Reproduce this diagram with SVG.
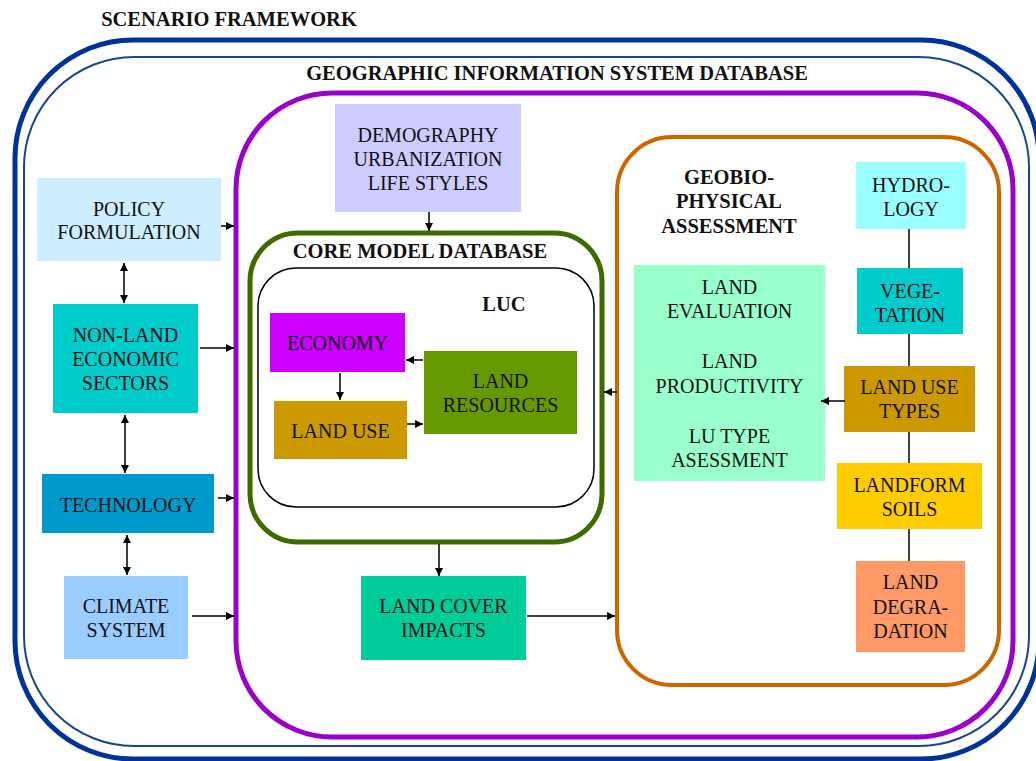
<svg xmlns="http://www.w3.org/2000/svg" width="1036" height="761" viewBox="0 0 1036 761">
<defs>
<marker id="ah" viewBox="0 0 10 10" refX="10" refY="5" markerWidth="8" markerHeight="8" markerUnits="userSpaceOnUse" orient="auto-start-reverse">
<path d="M0,0 L10,5 L0,10 z" fill="#000"/>
</marker>
<style>
.t{font-family:"Liberation Serif","Times New Roman",serif;font-size:20px;fill:#111;text-anchor:middle}
.b{font-family:"Liberation Serif","Times New Roman",serif;font-size:20.5px;font-weight:bold;fill:#111;text-anchor:middle}
.c{stroke:#000;stroke-width:1.5;fill:none}
.a{marker-end:url(#ah)}
.d{marker-start:url(#ah);marker-end:url(#ah)}
</style>
</defs>
<rect width="1036" height="761" fill="#fff"/>

<g id="scenario-framework">
<rect x="15" y="40" width="1024" height="719" rx="118" ry="118" fill="none" stroke="#003399" stroke-width="5"/>
<text class="b" x="229" y="26">SCENARIO FRAMEWORK</text>
</g>
<g id="gis-database">
<rect x="24" y="57" width="1005" height="689" rx="110" ry="110" fill="none" stroke="#1a4590" stroke-width="2"/>
<text class="b" x="557" y="80">GEOGRAPHIC INFORMATION SYSTEM DATABASE</text>
</g>
<g id="purple-frame">
<rect x="236" y="93" width="777" height="644" rx="96" ry="96" fill="none" stroke="#9900cc" stroke-width="5"/>
</g>
<g id="core-model-database">
<rect x="250" y="233" width="352" height="309" rx="48" ry="48" fill="none" stroke="#3d6b00" stroke-width="5"/>
<text class="b" x="420" y="258">CORE MODEL DATABASE</text>
</g>
<g id="luc">
<rect x="258" y="268" width="336" height="239" rx="38" ry="38" fill="none" stroke="#000" stroke-width="1.5"/>
<text class="b" x="504" y="311">LUC</text>
</g>
<g id="geobio-physical-assessment">
<rect x="617" y="137" width="382" height="548" rx="55" ry="55" fill="none" stroke="#cc6600" stroke-width="4"/>
<text class="b" x="729" y="184">GEOBIO-</text>
<text class="b" x="729" y="208">PHYSICAL</text>
<text class="b" x="729" y="233">ASSESSMENT</text>
</g>

<g id="demography">
<rect x="335" y="104" width="186" height="108" fill="#ccccff"/>
<text class="t" x="428" y="142">DEMOGRAPHY</text>
<text class="t" x="428" y="166">URBANIZATION</text>
<text class="t" x="428" y="190">LIFE STYLES</text>
</g>
<g id="policy-formulation">
<rect x="37" y="178" width="184" height="83" fill="#cceeff"/>
<text class="t" x="129" y="216">POLICY</text>
<text class="t" x="129" y="239">FORMULATION</text>
</g>
<g id="non-land-economic-sectors">
<rect x="53" y="304" width="145" height="109" fill="#00cccc"/>
<text class="t" x="125.5" y="342">NON-LAND</text>
<text class="t" x="125.5" y="366">ECONOMIC</text>
<text class="t" x="125.5" y="390">SECTORS</text>
</g>
<g id="technology">
<rect x="42" y="474" width="172" height="59" fill="#0099cc"/>
<text class="t" x="128" y="512">TECHNOLOGY</text>
</g>
<g id="climate-system">
<rect x="64" y="576" width="124" height="83" fill="#99ccff"/>
<text class="t" x="126" y="613">CLIMATE</text>
<text class="t" x="126" y="637">SYSTEM</text>
</g>
<g id="economy">
<rect x="270" y="313" width="135" height="59" fill="#cc00ff"/>
<text class="t" x="337.5" y="350">ECONOMY</text>
</g>
<g id="land-use">
<rect x="274" y="401" width="133" height="58" fill="#cc9900"/>
<text class="t" x="340.5" y="438">LAND USE</text>
</g>
<g id="land-resources">
<rect x="424" y="351" width="153" height="83" fill="#669900"/>
<text class="t" x="500.5" y="388">LAND</text>
<text class="t" x="500.5" y="412">RESOURCES</text>
</g>
<g id="land-cover-impacts">
<rect x="361" y="576" width="165" height="84" fill="#00cc99"/>
<text class="t" x="443.5" y="613">LAND COVER</text>
<text class="t" x="443.5" y="637">IMPACTS</text>
</g>
<g id="land-evaluation">
<rect x="634" y="265" width="191" height="216" fill="#99ffcc"/>
<text class="t" x="729.5" y="294">LAND</text>
<text class="t" x="729.5" y="318">EVALUATION</text>
<text class="t" x="729.5" y="368">LAND</text>
<text class="t" x="729.5" y="393">PRODUCTIVITY</text>
<text class="t" x="729.5" y="443">LU TYPE</text>
<text class="t" x="729.5" y="467">ASESSMENT</text>
</g>
<g id="hydrology">
<rect x="856" y="162" width="110" height="67" fill="#99ffff"/>
<text class="t" x="911" y="192">HYDRO-</text>
<text class="t" x="911" y="216">LOGY</text>
</g>
<g id="vegetation">
<rect x="857" y="268" width="106" height="66" fill="#00cccc"/>
<text class="t" x="910" y="298">VEGE-</text>
<text class="t" x="910" y="322">TATION</text>
</g>
<g id="land-use-types">
<rect x="844" y="366" width="131" height="66" fill="#cc9900"/>
<text class="t" x="909.5" y="394">LAND USE</text>
<text class="t" x="909.5" y="418">TYPES</text>
</g>
<g id="landform-soils">
<rect x="837" y="463" width="145" height="66" fill="#ffcc00"/>
<text class="t" x="909.5" y="492">LANDFORM</text>
<text class="t" x="909.5" y="516">SOILS</text>
</g>
<g id="land-degradation">
<rect x="856" y="561" width="109" height="91" fill="#ff9966"/>
<text class="t" x="910.5" y="589">LAND</text>
<text class="t" x="910.5" y="614">DEGRA-</text>
<text class="t" x="910.5" y="638">DATION</text>
</g>

<g id="connectors">
<line class="c a" x1="221" y1="226" x2="234" y2="226"/>
<line class="c a" x1="200" y1="348" x2="234" y2="348"/>
<line class="c a" x1="218" y1="498" x2="234" y2="498"/>
<line class="c a" x1="192" y1="616" x2="234" y2="616"/>
<line class="c d" x1="124" y1="263" x2="124" y2="303"/>
<line class="c d" x1="125" y1="415" x2="125" y2="473"/>
<line class="c d" x1="127" y1="535" x2="127" y2="575"/>
<line class="c a" x1="429" y1="212" x2="429" y2="231"/>
<line class="c a" x1="439" y1="544" x2="439" y2="576"/>
<line class="c a" x1="527" y1="616" x2="615" y2="616"/>
<line class="c a" x1="423" y1="360" x2="406" y2="360"/>
<line class="c a" x1="407" y1="424" x2="423" y2="424"/>
<line class="c a" x1="340" y1="373" x2="340" y2="400"/>
<line class="c a" x1="617" y1="392" x2="604" y2="392"/>
<line class="c a" x1="845" y1="401" x2="821" y2="401"/>
<line class="c" x1="909" y1="229" x2="909" y2="268"/>
<line class="c" x1="909" y1="334" x2="909" y2="366"/>
<line class="c" x1="909" y1="432" x2="909" y2="463"/>
<line class="c" x1="909" y1="529" x2="909" y2="561"/>
</g>
</svg>
